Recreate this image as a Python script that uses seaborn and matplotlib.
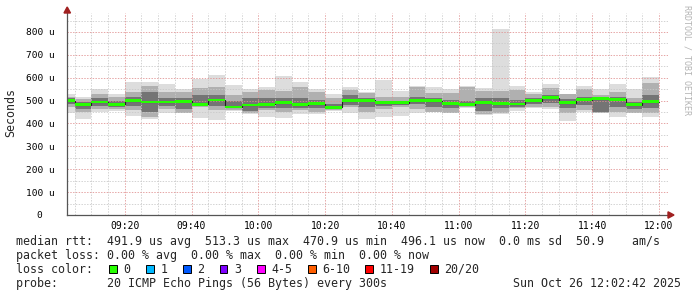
import numpy as np
import pandas as pd
import matplotlib
matplotlib.use("Agg")
import matplotlib.pyplot as plt
import seaborn as sns
from matplotlib.patches import Rectangle, Polygon

# ---------------- data (values in microseconds) ----------------
# 5-minute bins starting at 09:00 (minutes after 09:00)
bin_start = list(range(0, 180, 5))
median_rtt = [500, 482, 494, 484, 500, 494, 493, 497, 484, 503,
              473, 481, 484, 491, 482, 487, 471, 500, 501, 491,
              491, 500, 500, 487, 482, 491, 487, 485, 500, 513,
              491, 504, 509, 506, 482, 496]
rtt_max = [529, 517, 551, 529, 583, 580, 573, 549, 595, 612,
           568, 551, 558, 608, 580, 549, 529, 558, 539, 590,
           544, 565, 558, 549, 565, 554, 812, 564, 539, 573,
           529, 564, 549, 573, 551, 605]
rtt_min = [447, 420, 452, 456, 434, 420, 444, 447, 426, 415,
           456, 440, 430, 426, 440, 440, 455, 444, 420, 430,
           434, 444, 452, 444, 466, 437, 440, 456, 469, 463,
           412, 449, 444, 430, 447, 430]
mid_hi = [517, 506, 529, 514, 539, 564, 539, 539, 554, 561,
          525, 539, 546, 543, 561, 539, 510, 546, 532, 517,
          517, 558, 535, 532, 561, 543, 543, 546, 529, 554,
          529, 549, 525, 539, 510, 576]
mid_lo = [471, 452, 463, 462, 459, 430, 462, 447, 471, 459,
          459, 444, 459, 452, 459, 452, 459, 474, 452, 462,
          471, 462, 452, 447, 474, 440, 444, 466, 474, 474,
          444, 459, 444, 452, 447, 444]
core_hi = [510, 494, 510, 497, 515, 539, 510, 510, 525, 525,
           500, 510, 510, 510, 510, 503, 485, 525, 510, 500,
           500, 517, 510, 503, 500, 510, 510, 503, 510, 525,
           506, 517, 510, 517, 492, 525]
core_lo = [485, 465, 478, 470, 478, 452, 478, 462, 478, 478,
           466, 455, 466, 466, 466, 466, 462, 481, 474, 478,
           481, 485, 474, 466, 478, 455, 466, 474, 485, 488,
           466, 481, 452, 474, 462, 466]

x_tick_pos = [20, 40, 60, 80, 100, 120, 140, 160, 180]
x_tick_labels = ["09:20", "09:40", "10:00", "10:20", "10:40", "11:00", "11:20", "11:40", "12:00"]
y_tick_pos = [0, 100, 200, 300, 400, 500, 600, 700, 800]
y_tick_labels = ["0\u00a0\u00a0", "100 u", "200 u", "300 u", "400 u", "500 u", "600 u", "700 u", "800 u"]

loss_labels = ["0", "1", "2", "3", "4-5", "6-10", "11-19", "20/20"]
loss_colors = ["#26ff00", "#00b8ff", "#0059ff", "#7e00ff", "#ff00ff", "#ff5e00", "#ff0000", "#a10000"]

# ---------------- figure ----------------
sns.set_style("white")
plt.rcParams["font.family"] = ["DejaVu Sans Mono", "DejaVu Sans"]

W, H = 697, 297
fig = plt.figure(figsize=(W / 100, H / 100), dpi=100)
fig.patch.set_facecolor("white")

def fx(px):
    return px / W

def fy(py):
    return 1 - py / H

L, R, T, B = 67, 668, 13, 215
ax = fig.add_axes([fx(L), fy(B), (R - L) / W, (B - T) / H])
ax.set_facecolor("white")

df = pd.DataFrame({"t": bin_start + [180]})
def ext(a):
    return list(a) + [a[-1]]
df["med"] = ext(median_rtt)
df["mx"] = ext(rtt_max)
df["mn"] = ext(rtt_min)
df["mh"] = ext(mid_hi)
df["ml"] = ext(mid_lo)
df["ch"] = ext(core_hi)
df["cl"] = ext(core_lo)

ax.fill_between(df["t"], df["mn"], df["mx"], step="post", color="#dddddd", lw=0, zorder=1)
ax.fill_between(df["t"], df["ml"], df["mh"], step="post", color="#b0b0b0", lw=0, zorder=1.1)
ax.fill_between(df["t"], df["cl"], df["ch"], step="post", color="#747474", lw=0, zorder=1.2)

sns.lineplot(data=df, x="t", y="med", drawstyle="steps-post", color="#202020",
             lw=0.8, estimator=None, ax=ax, zorder=3)
ax.fill_between(df["t"], df["med"] - 5.5, df["med"] + 5.5, step="post",
                color=loss_colors[0], lw=0, zorder=3.5)

ax.set_xlim(2.7, 182.7)
ax.set_ylim(0, 883)

ax.set_xticks(x_tick_pos)
ax.set_xticklabels(x_tick_labels, fontsize=7)
ax.set_xticks(list(range(5, 185, 5)), minor=True)
ax.set_yticks(y_tick_pos)
ax.set_yticklabels(y_tick_labels, fontsize=6.8)
ax.set_yticks(list(range(50, 900, 100)), minor=True)
ax.tick_params(which="both", length=0)
ax.tick_params(axis="x", pad=4, colors="#000000")
ax.tick_params(axis="y", pad=9, colors="#000000")
ax.set_xlabel("")
ax.set_ylabel("")

ax.set_axisbelow(False)
ax.grid(which="minor", color="#c8c8c8", lw=0.72, ls=(0, (1.4, 1.4)), alpha=0.8)
ax.grid(which="major", color="#e09090", lw=0.72, ls=(0, (1.4, 1.4)), alpha=0.8)

for s in ["top", "right"]:
    ax.spines[s].set_visible(False)
for s in ["left", "bottom"]:
    ax.spines[s].set_color("#555555")
    ax.spines[s].set_linewidth(0.9)
    ax.spines[s].set_zorder(6)

# arrows
fig.patches.append(Polygon([[fx(64), fy(13)], [fx(70.5), fy(13)], [fx(67.2), fy(7)]],
                           closed=True, transform=fig.transFigure, color="#a02020"))
fig.patches.append(Polygon([[fx(668), fy(211.8)], [fx(668), fy(218.2)], [fx(674), fy(215)]],
                           closed=True, transform=fig.transFigure, color="#a02020"))

# y label
fig.text(fx(11), fy(113), "Seconds", rotation=90, ha="center", va="center", fontsize=8.4)

# watermark
fig.text(fx(687), fy(5), "RRDTOOL / TOBI OETIKER", rotation=-90, ha="center", va="top",
         fontsize=6, color="#b4b4b4")

# legend text
fs = 8.4
fig.text(fx(16), fy(245), "median rtt:  491.9 us avg  513.3 us max  470.9 us min  496.1 us now  0.0 ms sd  50.9    am/s",
         fontsize=fs, va="baseline", ha="left")
fig.text(fx(16), fy(259), "packet loss: 0.00 % avg  0.00 % max  0.00 % min  0.00 % now",
         fontsize=fs, va="baseline", ha="left")
fig.text(fx(16), fy(273), "loss color:", fontsize=fs, va="baseline", ha="left")
box_x = [109, 146, 183, 220, 257, 308, 365, 430]
for bx, lab, col in zip(box_x, loss_labels, loss_colors):
    fig.patches.append(Rectangle((fx(bx), fy(273)), 7.5 / W, 8 / H, transform=fig.transFigure,
                                 facecolor=col, edgecolor="black", lw=0.7))
    fig.text(fx(bx + 14.6), fy(273), lab, fontsize=fs, va="baseline", ha="left")
fig.text(fx(16), fy(287), "probe:       20 ICMP Echo Pings (56 Bytes) every 300s",
         fontsize=fs, va="baseline", ha="left")
fig.text(fx(681), fy(287), "Sun Oct 26 12:02:42 2025", fontsize=fs, va="baseline", ha="right")

fig.savefig("out.png", dpi=100, facecolor="white")
